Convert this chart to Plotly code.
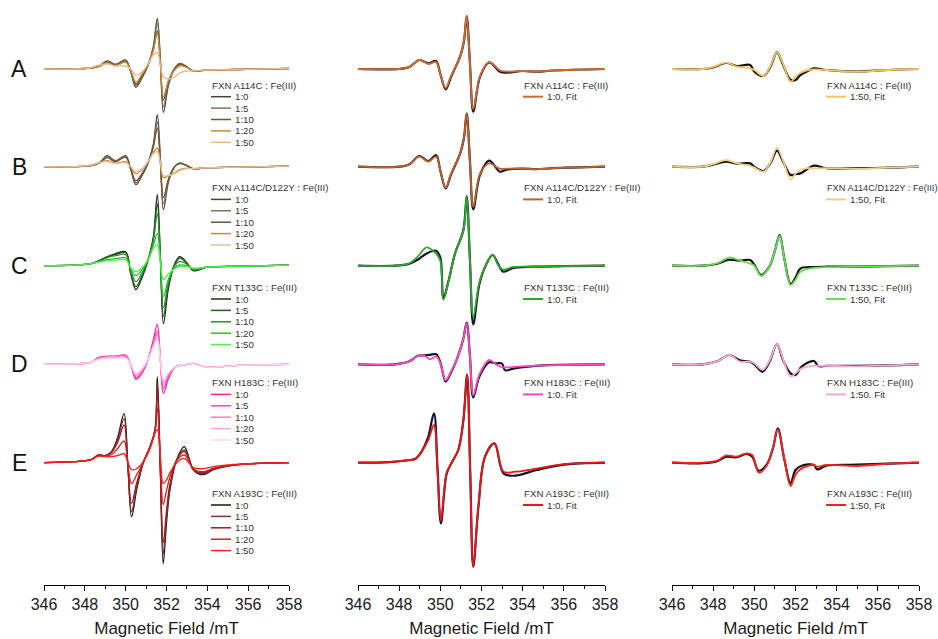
import plotly.graph_objects as go

# ---------------- DATA (intensity in arbitrary units) ----------------
ROW_LETTERS = ["A", "B", "C", "D", "E"]
SAMPLE_TITLES = ["FXN A114C : Fe(III)", "FXN A114C/D122Y : Fe(III)", "FXN T133C : Fe(III)",
                 "FXN H183C : Fe(III)", "FXN A193C : Fe(III)"]
RATIOS = ["1:0", "1:5", "1:10", "1:20", "1:50"]
FIT_LABELS_MID = ["1:0, Fit", "1:0, Fit", "1:0, Fit", "1:0. Fit", "1:0, Fit"]
FIT_LABELS_RIGHT = ["1:50, Fit", "1:50, Fit", "1:50, Fit", "1:50. Fit", "1:50, Fit"]
FIELD_TICKS = [346, 348, 350, 352, 354, 356, 358]
AXIS_TITLE = "Magnetic Field /mT"

# --- column 1: titrations (field in mT) ---
FIELD_ABCD_TITR = [346, 347.5, 348.3, 348.7, 349.1, 349.5, 350.0, 350.25, 350.5, 350.8, 351.1, 351.35,
                   351.55, 351.7, 351.85, 352.1, 352.4, 352.65, 353.0, 353.3, 354.0, 355.5, 358]
A_TITR = [
    [0, 0, 1, 3, 8, 4.7, 9, -3, -18.3, -9, 4, 22, 50.7, 9, -43.3, -16, 0.7, 5.7, 2.3, -2, -1, -0.5, 0.5],
    [0, 0, 1, 2.5, 7.5, 4.5, 8.5, -2.5, -16.5, -8, 4, 20, 45.7, 8, -37.7, -14, 0.5, 5, 2, -2, -1, -0.5, 0.5],
    [0, 0, 1, 2.5, 7, 4, 8, -2, -15, -7, 4, 19, 38, 6, -31, -12, 0.5, 4.5, 2, -2, -1, -0.5, 0.5],
    [0, 0, 1, 2.5, 6, 3.5, 6.5, -1.5, -13, -5, 4.5, 18, 35.7, 4, -27.7, -11, -1, 3, 1.5, -1.5, -1, -0.5, 0.5],
    [0, 0, 1.5, 4, 5, 3, 3, 0, -6, -3, 5, 14, 16.7, 4, -8, -10, -8, -4, -2, -2, -1, -0.5, 0.5],
]
B_TITR = [
    [0, 0, 1, 4, 11, 6, 11, -3, -18, -9, 4, 22, 52, 8, -43, -15, 0, 3.7, 1, -2, -1, -0.5, 0.5],
    [0, 0, 1, 3.5, 10, 5.5, 10, -2.5, -16, -8, 4, 20, 45, 6, -37, -13, 0, 3.5, 1, -2, -1, -0.5, 0.5],
    [0, 0, 1, 3.5, 9, 5, 9.5, -2, -14, -7, 4, 19, 38.7, 5, -31, -12, 0, 3, 1, -2, -1, -0.5, 0.5],
    [0, 0, 1.5, 4, 6, 3.5, 5, -0.5, -7, -3, 5, 14, 18.7, 4, -11, -9, -6, -3, -1.5, -2, -1, -0.5, 0.5],
    [0, 0, 1.5, 4, 5, 3, 4, 0, -5, -2, 5, 13, 15, 4, -9, -9, -7, -4, -2, -2, -1, -0.5, 0.5],
]
C_TITR = [
    [0, 0.5, 2, 5, 9, 12, 14, -8, -24, -12, 6, 28, 71, 10, -58, -22, 2, 9, 3, -5, -1.5, -0.5, 0.5],
    [0, 0.5, 2, 5, 8.5, 11, 13, -7, -21, -10, 6, 26, 62, 8, -50.7, -19, 1, 7.7, 2.5, -4.5, -1.5, -0.5, 0.5],
    [0, 0.5, 2, 4.5, 8, 10, 11, -5, -16, -7, 6, 24, 52, 7, -42, -16, 0, 4.3, 1.5, -4, -1.5, -0.5, 0.5],
    [0, 0.5, 2, 4, 6, 7, 8, -3, -10, -4, 6, 20, 32, 5, -31, -13, -2, 0.7, 0, -3, -1.5, -0.5, 0.5],
    [0, 0.5, 2, 3.5, 5, 5.5, 6, -2, -6, -2, 6, 17, 21, 3, -14, -8, -3, -1, -1, -2.5, -1.5, -0.5, 0.5],
]
D_TITR = [
    [0, 0.5, 2, 7, 8, 8, 9, 0, -15, -9, 5, 24, 40, 5, -29, -14, -3, -1, 0, 1, -3, -1, 0],
    [0, 0.5, 2, 6.5, 8, 8, 8.5, 0, -13, -8, 5, 21, 33, 4, -24, -12, -3, -1, 0, 1, -3, -1, 0],
    [0, 0.5, 2, 6, 7.5, 7.5, 8, 0, -11, -6, 5, 19, 30, 4, -20, -10, -3, -1, 0, 1, -3, -1, 0],
    [0, 0.5, 2, 5.5, 7, 7, 7, 0.5, -10, -5, 5, 18, 27, 4, -17, -9, -3, -1, 0, 1, -3, -1, 0],
    [0, 0.5, 2, 5, 6, 6, 6, 0.5, -9, -4, 5, 17, 25, 4, -15, -8, -3, -1, 0, 1, -3, -1, 0],
]
FIELD_E_TITR = [346, 347.5, 348.3, 348.66, 349.0, 349.3, 349.6, 349.92, 350.1, 350.29, 350.54, 350.86, 351.19,
                351.44, 351.55, 351.7, 351.84, 352.0, 352.17, 352.5, 352.87, 353.1, 353.31, 353.8, 354.3,
                355.5, 358]
E_TITR = [
    [0, 1, 3, 7.7, 7, 11, 25, 49, 0, -54, -27, 0, 16, 33, 86, -10, -101, -60, -27, 3, 16, 5, -7, -12, -7, -2, 0],
    [0, 1, 3, 7.5, 7, 10.5, 23, 44, -1, -49, -24, 0, 16, 33, 80, -8, -91, -54, -24, 3, 12.7, 4, -7, -11, -6.5, -2, 0],
    [0, 1, 3, 7.5, 7, 10, 20, 37.7, -1, -40.7, -20, 0, 16, 33, 73, -6, -80, -48, -21, 3, 11, 3.5, -6.5, -10, -6, -2, 0],
    [0, 1, 3, 7, 6.5, 8, 14, 21.7, 0, -21, -12, 0, 15, 30, 55, 2, -42, -28, -14, 2, 7.7, 2, -6, -9, -5.5, -2, 0],
    [0, 1, 3, 6.5, 6, 6, 7, 9, 1, -7, -6, 1, 14, 30, 33, 6, -21, -17, -10, 0, 4.3, 0, -5, -6, -4, -1.5, 0],
]

# --- column 2: 1:0 data and fit ---
FIELD_AB_MID = [346, 348.0, 348.5, 348.98, 349.42, 349.79, 350.0, 350.26, 350.5, 350.71, 350.96, 351.15,
                351.28, 351.44, 351.6, 351.93, 352.37, 352.9, 353.22, 354.0, 354.68, 355.5, 358]
A_MID_DATA = [0, 0, 2, 9, 5.7, 8, -5, -20.3, -9, 0.7, 12.3, 28, 53, 5, -42.7, -7.7, 6.7, -2.7, -3.7, -2, -2.7, -1.5, 0]
A_MID_FIT = [0, 0, 2, 9, 5, 7, -5, -19, -8, 1, 12, 29, 53, 5, -40, -7, 7, -1.5, -2.5, -2, -2.5, -1.5, 0]
B_MID_DATA = [0, 0, 2.5, 10.7, 5.7, 11.7, -4, -21.7, -9, 1, 13, 29, 53.3, 5, -42.6, -8, 6, -5, -3, -2, -2.5, -1.5, 0]
B_MID_FIT = [0, 0, 2.5, 10, 5, 10, -4, -21, -8, 1.5, 13, 29, 53, 5, -40, -7, 3.3, -2, -2, -2, -2.5, -1.5, 0]
FIELD_C_MID = [346, 347.8, 348.5, 348.9, 349.34, 349.79, 350.0, 350.15, 350.4, 350.71, 351.12, 351.28,
               351.44, 351.6, 351.9, 352.2, 352.54, 352.8, 353.06, 353.5, 354.5, 356, 358]
C_MID_DATA = [0, 0, 2, 6, 12.3, 15, 8, -32.7, -15, 12, 35.7, 69.7, 5, -58.6, -18, 0, 10.7, 2, -6, -2.5, -1, -0.5, 0]
C_MID_FIT = [0, 0, 2.5, 9, 18.3, 12, 5, -34, -16, 12, 35, 69, 5, -51, -16, 0, 11, 1, -4, -1.5, -1, -0.5, 0]
FIELD_D_MID = [346, 347.8, 348.5, 348.9, 349.2, 349.5, 349.8, 350.0, 350.26, 350.5, 350.8, 351.1,
               351.28, 351.44, 351.6, 351.9, 352.37, 352.7, 353.0, 353.15, 353.6, 355, 358]
D_MID_DATA = [0, 0, 3, 8.5, 9, 9.5, 10, 2, -17.3, -9, 5, 24, 41.7, 8, -33, -12, 2, 1, 0.7, -6, -4, -1, 0]
D_MID_FIT = [0, 0, 3, 8.5, 9, 5, 8, 1, -16, -8, 5, 24, 41, 8, -31, -10, 4.3, 0, -3, -3, -2.5, -1, 0]
FIELD_E_MID = [346, 347.5, 348.5, 348.8, 349.09, 349.4, 349.69, 349.86, 350.03, 350.31, 350.55, 350.87, 351.12,
               351.3, 351.45, 351.6, 351.85, 352.17, 352.63, 353.07, 353.63, 354.68, 356, 358]
E_MID_DATA = [0, 0.5, 2.7, 4, 11, 25, 49.3, -4, -60.7, -10.7, 0, 12.7, 42.7, 88, -8, -104, -44, 6, 19.3, -10.7,
              -13, -7.3, -2, 0]
E_MID_FIT = [0, 0.5, 2.7, 4, 11, 22, 37.7, -8, -58, -10, 0, 12.7, 42, 88, -8, -104, -44, 6, 19.3, -9, -9, -6, -1.5, 0]

# --- column 3: 1:50 data and fit ---
FIELD_AB_RIGHT = [346, 347.5, 348.0, 348.63, 349.16, 349.8, 350.0, 350.45, 350.8, 351.1, 351.4, 351.76,
                  352.0, 352.24, 352.6, 352.9, 353.5, 355.0, 356.5, 358]
A_RIGHT_DATA = [0, 0, 1.5, 6, 3, 4, -2.7, -7, 3, 16.7, 4, -11, -11, -6, -2, 0.7, -1, -2.5, -1, 0]
A_RIGHT_FIT = [0, 0, 2, 6.3, 2.3, 0.7, -1, -7, 4, 16.7, 5, -12.7, -8, -3.7, -1, -0.3, -1, -2.7, -1, 0]
B_RIGHT_DATA = [0, 0, 2, 5, 3, 3.3, 0, -4.3, 4, 16, 5, -8.3, -7.5, -6.7, -2, 1, -1.5, -1.5, -1, 0]
B_RIGHT_FIT = [0, 0, 2.5, 6.7, 3.3, 0.7, -1, -5, 5, 19, 6, -12.7, -7, -3.3, -1.5, -1.7, -1.5, -2, -1, 0]
FIELD_C_RIGHT = [346, 347.5, 348.2, 348.8, 349.3, 349.8, 350.0, 350.33, 350.7, 351.0, 351.23, 351.45,
                 351.76, 352.0, 352.24, 352.7, 353.5, 355.0, 356.5, 358]
C_RIGHT_DATA = [0, 0, 2, 6, 5, 5.7, 1, -9.3, -2, 15, 30.7, 8, -18.3, -12, -2.7, -1.5, -1, -1, -0.5, 0]
C_RIGHT_FIT = [0, 0, 2.5, 8.3, 5, 2, 0, -10.3, -2, 15, 29.7, 8, -19.3, -14, -6, -2.7, -1.5, -1, -0.5, 0]
FIELD_D_RIGHT = [346, 347.5, 348.2, 348.8, 349.3, 349.8, 350.0, 350.4, 350.75, 351.1, 351.4, 351.76,
                 352.0, 352.3, 352.9, 353.1, 353.5, 355.0, 356.5, 358]
D_RIGHT_DATA = [0, 0, 3, 9.3, 4, 2.5, 0, -7.3, 3, 20.3, 4, -9, -10.7, -2.3, 3.3, -1.7, -1.5, -1.5, -1, 0]
D_RIGHT_FIT = [0, 0, 3, 9.3, 2.7, 2.7, 1, -5.7, 4, 20.3, 5, -12.3, -9, -4, -1.5, -1.5, -1.5, -2, -1, 0]
FIELD_E_RIGHT = [346, 347.5, 348.2, 348.63, 349.1, 349.61, 349.9, 350.21, 350.6, 350.9, 351.14, 351.45,
                 351.76, 352.0, 352.3, 352.9, 353.05, 353.5, 355.0, 356.5, 358]
E_RIGHT_DATA = [0, -0.5, 1.5, 6, 5.3, 8.7, 6, -8, -2, 14, 34.3, 4, -20.7, -7.3, -3, -2.3, -6.7, -3, -2, -1, 0]
E_RIGHT_FIT = [0, 0, 2, 7.3, 6, 9.3, 7.7, -10, -3, 15, 33.3, 5, -23.3, -12, -5.7, -2.3, -4, -2.3, -3.3, -1, 0]

# ---------------- STYLE / LAYOUT CONSTANTS ----------------
W, H = 938, 639
PLOT_BOTTOM_PX = 585
BASELINE_PX = [69, 166.7, 265.7, 364.3, 462.7]
COL_PX = [(44, 289), (358, 605), (672, 919)]
LEGEND_X_PX = [211, 523, 826]
LEGEND_TITLE_Y_PX = [85, 187.7, 287.3, 382.7, 493.3]
FONT = "Arial, Liberation Sans, sans-serif"
LEGEND_FONT_SIZE = 9.7
EDGE_TITLE_FONT_SIZE = 9.2   # right-column title that reaches the page edge

TITR_COLORS = [
    ["#4a4236", "#85715c", "#6e5232", "#c98b3c", "#e9b98a"],
    ["#4a4236", "#85715c", "#6e5232", "#c98b3c", "#e9be96"],
    ["#1c2e1c", "#1f5f1f", "#2e8f2e", "#22c322", "#4ef04e"],
    ["#ff1aa0", "#ff45b5", "#ff78c8", "#ffa8d8", "#ffd6ea"],
    ["#241010", "#7a3434", "#a31a1a", "#d42020", "#ff1a1a"],
]
MID_DATA_COLOR = "#15152e"
MID_FIT_COLORS = ["#d06a2c", "#c0622a", "#2ea82e", "#ff48c0", "#f01414"]
RIGHT_DATA_COLOR = "#111111"
RIGHT_FIT_COLORS = ["#f3c35e", "#f2cc8a", "#66dd55", "#f5a8d5", "#ff2020"]

titr_fields = [FIELD_ABCD_TITR, FIELD_ABCD_TITR, FIELD_ABCD_TITR, FIELD_ABCD_TITR, FIELD_E_TITR]
titr_sets = [A_TITR, B_TITR, C_TITR, D_TITR, E_TITR]
mid_fields = [FIELD_AB_MID, FIELD_AB_MID, FIELD_C_MID, FIELD_D_MID, FIELD_E_MID]
mid_data = [A_MID_DATA, B_MID_DATA, C_MID_DATA, D_MID_DATA, E_MID_DATA]
mid_fit = [A_MID_FIT, B_MID_FIT, C_MID_FIT, D_MID_FIT, E_MID_FIT]
right_fields = [FIELD_AB_RIGHT, FIELD_AB_RIGHT, FIELD_C_RIGHT, FIELD_D_RIGHT, FIELD_E_RIGHT]
right_data = [A_RIGHT_DATA, B_RIGHT_DATA, C_RIGHT_DATA, D_RIGHT_DATA, E_RIGHT_DATA]
right_fit = [A_RIGHT_FIT, B_RIGHT_FIT, C_RIGHT_FIT, D_RIGHT_FIT, E_RIGHT_FIT]

fig = go.Figure()


def add_line(x, y, offset, xaxis, color, width):
    fig.add_trace(go.Scatter(x=x, y=[v - offset for v in y], xaxis=xaxis, yaxis="y",
                             mode="lines", line=dict(color=color, width=width, shape="spline", smoothing=1),
                             showlegend=False, hoverinfo="skip"))


for r in range(5):
    off = BASELINE_PX[r]
    for k in range(5):
        add_line(titr_fields[r], titr_sets[r][k], off, "x", TITR_COLORS[r][k], 1.3)
    add_line(mid_fields[r], mid_data[r], off, "x2", MID_DATA_COLOR, 2.2)
    add_line(mid_fields[r], mid_fit[r], off, "x2", MID_FIT_COLORS[r], 1.8)
    add_line(right_fields[r], right_data[r], off, "x3", RIGHT_DATA_COLOR, 2.2)
    add_line(right_fields[r], right_fit[r], off, "x3", RIGHT_FIT_COLORS[r], 1.8)

annotations = []
shapes = []


def legend_block(col, r, labels, colors, width):
    lx = LEGEND_X_PX[col]
    ty = LEGEND_TITLE_Y_PX[r]
    title_size = EDGE_TITLE_FONT_SIZE if (col == 2 and len(SAMPLE_TITLES[r]) > 22) else LEGEND_FONT_SIZE
    annotations.append(dict(xref="paper", yref="y", x=lx / W, y=-ty, text=SAMPLE_TITLES[r],
                            showarrow=False, xanchor="left", yanchor="middle", borderpad=0,
                            font=dict(family=FONT, size=title_size, color="#333333")))
    for i, lab in enumerate(labels):
        iy = ty + 11.7 + 11.4 * i
        shapes.append(dict(type="line", xref="paper", yref="y", x0=lx / W, x1=(lx + 20) / W,
                           y0=-iy, y1=-iy, line=dict(color=colors[i], width=width)))
        annotations.append(dict(xref="paper", yref="y", x=(lx + 23) / W, y=-iy, text=lab,
                                showarrow=False, xanchor="left", yanchor="middle", borderpad=0,
                                font=dict(family=FONT, size=LEGEND_FONT_SIZE, color="#333333")))


for r in range(5):
    annotations.append(dict(xref="paper", yref="y", x=19 / W, y=-BASELINE_PX[r], text=ROW_LETTERS[r],
                            showarrow=False, xanchor="center", yanchor="middle",
                            font=dict(family=FONT, size=23, color="#111111")))
    legend_block(0, r, RATIOS, TITR_COLORS[r], 1.5)
    legend_block(1, r, [FIT_LABELS_MID[r]], [MID_FIT_COLORS[r]], 2)
    legend_block(2, r, [FIT_LABELS_RIGHT[r]], [RIGHT_FIT_COLORS[r]], 2)


def xaxis_style(col):
    x0, x1 = COL_PX[col]
    return dict(domain=[x0 / W, x1 / W], range=[346, 358], anchor="y",
                showline=True, linecolor="#000000", linewidth=1, mirror=False,
                ticks="outside", ticklen=5, tickwidth=1, tickcolor="#000000",
                tickmode="array", tickvals=FIELD_TICKS,
                minor=dict(tickmode="linear", tick0=346, dtick=1, ticks="outside", ticklen=3,
                           tickcolor="#000000", tickwidth=1),
                tickfont=dict(family=FONT, size=16, color="#1a1a1a"),
                title=dict(text=AXIS_TITLE, font=dict(family=FONT, size=17, color="#1a1a1a"), standoff=9),
                showgrid=False, zeroline=False, automargin=False, fixedrange=True)


fig.update_layout(
    width=W, height=H, margin=dict(l=0, r=0, t=0, b=0),
    paper_bgcolor="white", plot_bgcolor="white", showlegend=False,
    xaxis=xaxis_style(0), xaxis2=xaxis_style(1), xaxis3=xaxis_style(2),
    yaxis=dict(domain=[1 - PLOT_BOTTOM_PX / H, 1], range=[-PLOT_BOTTOM_PX, 0], visible=False,
               fixedrange=True),
    annotations=annotations, shapes=shapes,
)

fig.write_html("out.html")
